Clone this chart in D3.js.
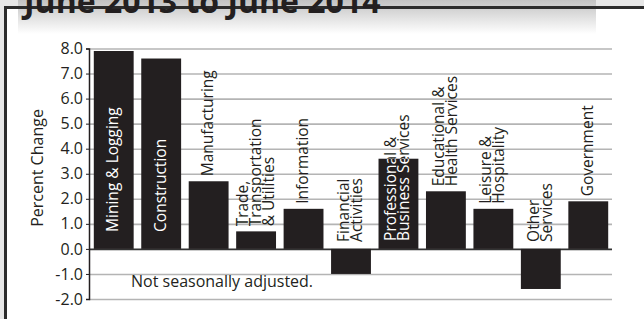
<!DOCTYPE html>
<html>
<head>
<meta charset="utf-8">
<script src="https://cdn.jsdelivr.net/npm/d3@7"></script>
<style>
  body { margin: 0; background: #e6e6e6; }
  text { font-family: "Open Sans", sans-serif; fill: #231f20; }
</style>
</head>
<body>
<div id="chart"></div>
<script>
// chart data
var categories = [
    "Mining & Logging",
    "Construction",
    "Manufacturing",
    "Trade,\nTransportation\n& Utilities",
    "Information",
    "Financial\nActivities",
    "Professional &\nBusiness Services",
    "Educational &\nHealth Services",
    "Leisure &\nHospitality",
    "Other\nServices",
    "Government"
];
var values = [7.9, 7.6, 2.7, 0.7, 1.6, -1.0, 3.6, 2.3, 1.6, -1.6, 1.9];
var tickValues = [-2, -1, 0, 1, 2, 3, 4, 5, 6, 7, 8];
var title = "June 2013 to June 2014";
var yTitle = "Percent Change";
var note = "Not seasonally adjusted.";

var svgWidth = 644;
var svgHeight = 319;

var svg = d3.select("#chart")
    .append("svg")
    .attr("width", svgWidth)
    .attr("height", svgHeight);

var defs = svg.append("defs");
var grad = defs.append("linearGradient")
    .attr("id", "titleGrad")
    .attr("x1", 0).attr("y1", 0).attr("x2", 0).attr("y2", 1);
grad.append("stop").attr("offset", "0%").attr("stop-color", "#c2c2c2");
grad.append("stop").attr("offset", "100%").attr("stop-color", "#ffffff");

// page background + white frame
svg.append("rect")
    .attr("width", svgWidth).attr("height", svgHeight)
    .attr("fill", "#e6e6e6");
svg.append("rect")
    .attr("x", 5).attr("y", 8)
    .attr("width", svgWidth - 5).attr("height", svgHeight - 8)
    .attr("fill", "#ffffff");

// title shading
svg.append("rect")
    .attr("x", 18).attr("y", 0)
    .attr("width", 578).attr("height", 34)
    .attr("fill", "url(#titleGrad)");

// frame lines
svg.append("line")
    .attr("x1", 4).attr("x2", svgWidth)
    .attr("y1", 7.5).attr("y2", 7.5)
    .attr("stroke", "#2b2b2b").attr("stroke-width", 3);
svg.append("line")
    .attr("x1", 5.5).attr("x2", 5.5)
    .attr("y1", 6).attr("y2", svgHeight)
    .attr("stroke", "#2b2b2b").attr("stroke-width", 3);

// title is cut by the top edge, as in the original
svg.append("text")
    .attr("x", 24).attr("y", 13)
    .style("font-size", "32px")
    .style("font-weight", "bold")
    .text(title);

// scales
var left = 89, right = 612;
var x = d3.scaleBand()
    .domain(categories)
    .range([left + 1, right])
    .paddingInner(0.16)
    .paddingOuter(0.08);

var y = d3.scaleLinear()
    .domain([-2, 8])
    .range([299, 48.5]);

// gridlines
var grid = svg.append("g")
    .attr("transform", `translate(${left}, 0)`)
    .call(d3.axisRight(y).tickValues(tickValues).tickSize(right - left).tickFormat(""));
grid.select(".domain").remove();
grid.selectAll(".tick line")
    .attr("stroke", d => d === 0 ? "#333333" : "#b4b4b4")
    .attr("stroke-width", 1.6);

// left axis
var yAxis = svg.append("g")
    .attr("transform", `translate(${left}, 0)`)
    .call(d3.axisLeft(y).tickValues(tickValues).tickSize(3).tickPadding(3)
        .tickFormat(d => d.toFixed(1)));
yAxis.select(".domain")
    .attr("stroke", "#231f20").attr("stroke-width", 1.5);
yAxis.selectAll(".tick line").attr("stroke", "#231f20");
yAxis.selectAll(".tick text")
    .style("font-size", "16px")
    .style("font-family", "'Open Sans', sans-serif")
    .attr("fill", "#231f20");

svg.append("text")
    .attr("transform", "rotate(-90)")
    .attr("x", -168).attr("y", 43)
    .attr("text-anchor", "middle")
    .style("font-size", "16px")
    .text(yTitle);

// bars
var data = categories.map((c, i) => ({ name: c, value: values[i] }));

var clip = defs.append("clipPath").attr("id", "barClip");
clip.selectAll("rect")
    .data(data)
    .enter()
    .append("rect")
    .attr("x", d => x(d.name))
    .attr("y", d => y(Math.max(0, d.value)))
    .attr("width", x.bandwidth())
    .attr("height", d => Math.abs(y(d.value) - y(0)));

svg.append("g").selectAll("rect")
    .data(data)
    .enter()
    .append("rect")
    .attr("x", d => x(d.name))
    .attr("y", d => y(Math.max(0, d.value)))
    .attr("width", x.bandwidth())
    .attr("height", d => Math.abs(y(d.value) - y(0)))
    .attr("fill", "#231f20");

// bar labels: black everywhere, white copy clipped to the bars
var lineGap = 13;
function labelBottom(d) {
    var lines = d.name.split("\n").length;
    if (d.value > 3) return y(0) - (lines === 1 ? 17 : 8);
    if (d.value <= 0) return y(0) - 7;
    return y(d.value) - 5;
}
function drawLabels(g, color) {
    data.forEach(function(d) {
        var lines = d.name.split("\n");
        var cx = x(d.name) + x.bandwidth() / 2;
        var x0 = cx - lines.length * lineGap / 2 + 11;
        var yb = labelBottom(d);
        lines.forEach(function(line, i) {
            g.append("text")
                .attr("transform", `translate(${x0 + i * lineGap}, ${yb}) rotate(-90)`)
                .style("font-size", "15.5px")
                .style("fill", color)
                .text(line);
        });
    });
}
drawLabels(svg.append("g"), "#231f20");
drawLabels(svg.append("g").attr("clip-path", "url(#barClip)"), "#ffffff");

svg.append("text")
    .attr("x", 131).attr("y", 287)
    .style("font-size", "16px")
    .text(note);
</script>
</body>
</html>
